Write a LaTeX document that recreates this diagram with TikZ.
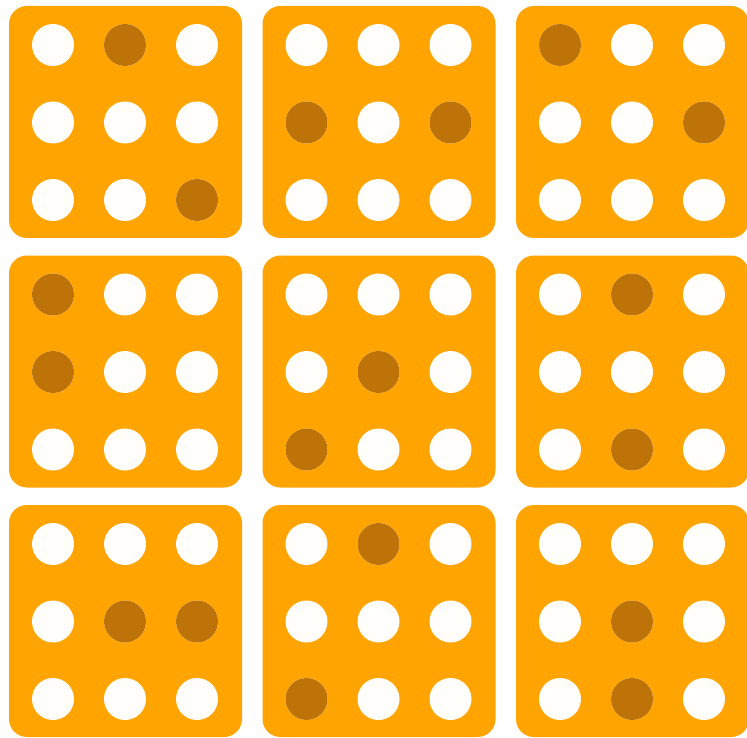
\documentclass[tikz,border=0pt]{standalone}
\definecolor{tileorange}{RGB}{255,164,0}
\definecolor{dotdark}{RGB}{190,115,8}
\definecolor{dotlight}{RGB}{255,254,250}
\begin{document}
\begin{tikzpicture}[x=1pt,y=-1pt]
\useasboundingbox (0,0) rectangle (747,738);
\fill[white] (0,0) rectangle (747,738);
% tiles with white dots
\foreach \c in {0,1,2} \foreach \r in {0,1,2} {
  \fill[tileorange,rounded corners=18pt] ({9+253.5*\c},{6+249.5*\r}) rectangle +(233,232);
  \foreach \dc in {0,1,2} \foreach \dr in {0,1,2}
    \fill[dotlight] ({53+253.5*\c+72*\dc},{45+249.5*\r+77.5*\dr}) circle (21);
}
% dark dots: tile column/row/dot column/dot row
\foreach \c/\r/\dc/\dr in {0/0/1/0,0/0/2/2, 1/0/0/1,1/0/2/1, 2/0/0/0,2/0/2/1,
  0/1/0/0,0/1/0/1, 1/1/1/1,1/1/0/2, 2/1/1/0,2/1/1/2,
  0/2/1/1,0/2/2/1, 1/2/1/0,1/2/0/2, 2/2/1/1,2/2/1/2}
  \fill[dotdark] ({53+253.5*\c+72*\dc},{45+249.5*\r+77.5*\dr}) circle (21);
\end{tikzpicture}
\end{document}
